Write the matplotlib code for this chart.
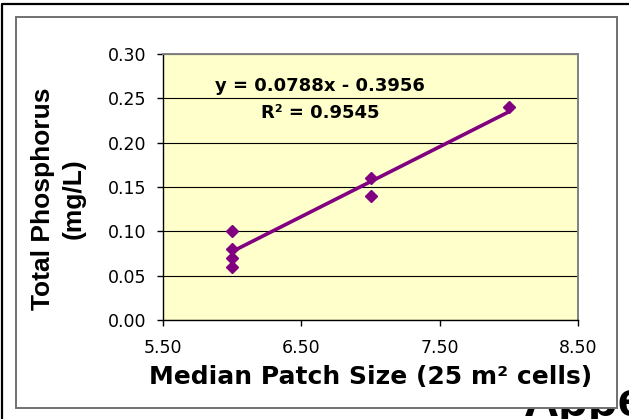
import matplotlib
matplotlib.use("Agg")
import matplotlib.pyplot as plt
from matplotlib.patches import Rectangle
import numpy as np

# ---- data ----
x_values = [6, 6, 6, 6, 7, 7, 8]
tp_values = [0.10, 0.08, 0.07, 0.06, 0.16, 0.14, 0.24]
trend_slope = 0.0788
trend_intercept = -0.3956
equation_text = "y = 0.0788x - 0.3956"
r2_text = "R² = 0.9545"
x_ticks = [5.5, 6.5, 7.5, 8.5]
x_tick_labels = ["5.50", "6.50", "7.50", "8.50"]
y_ticks = [0.00, 0.05, 0.10, 0.15, 0.20, 0.25, 0.30]
y_tick_labels = ["0.00", "0.05", "0.10", "0.15", "0.20", "0.25", "0.30"]
x_label = "Median Patch Size (25 m² cells)"
y_label = "Total Phosphorus\n(mg/L)"
bg_text = "Appe"

W, H = 629, 419
fig = plt.figure(figsize=(W / 100, H / 100), dpi=100)
fig.patch.set_facecolor("white")

def fx(px):
    return px / W

def fy(py):
    return 1 - py / H

PURPLE = "#800080"
YELLOW = "#FFFFCC"

# background layer in pixel coordinates (slide behind the chart)
bg = fig.add_axes([0, 0, 1, 1], zorder=-10)
bg.set_xlim(0, W)
bg.set_ylim(H, 0)
bg.axis("off")
bg.plot([1.5, 1.5, 640], [430, 4.5, 4.5], color="black", lw=1.6, zorder=1)
bg.text(524, 416, bg_text, fontsize=35, fontweight="bold",
        family=["Liberation Sans", "DejaVu Sans"], color="black",
        ha="left", va="baseline", zorder=2)
bg.add_patch(Rectangle((16, 17), 617 - 16, 408 - 17, facecolor="white",
                       edgecolor="#707070", lw=1.4, zorder=3))

ax = fig.add_axes([fx(163), fy(320), fx(578) - fx(163), fy(54) - fy(320)])
ax.set_facecolor(YELLOW)
ax.set_xlim(5.5, 8.5)
ax.set_ylim(0.0, 0.30)

ax.set_yticks(y_ticks)
ax.set_yticklabels(y_tick_labels)
ax.set_xticks(x_ticks)
ax.set_xticklabels(x_tick_labels)
ax.tick_params(axis="both", direction="out", length=4, width=1, color="black",
               labelsize=12.5, labelcolor="black")
ax.tick_params(axis="y", pad=8)
ax.tick_params(axis="x", pad=10)

ax.yaxis.grid(True, color="black", lw=0.8)
ax.set_axisbelow(True)

for side in ["left", "bottom"]:
    ax.spines[side].set_color("black")
    ax.spines[side].set_linewidth(1.0)
for side in ["top", "right"]:
    ax.spines[side].set_color("#808080")
    ax.spines[side].set_linewidth(1.4)

# trendline
xt = np.array([min(x_values), max(x_values)])
ax.plot(xt, trend_slope * xt + trend_intercept, color=PURPLE, lw=2.6,
        solid_capstyle="butt", zorder=3)

# points
ax.plot(x_values, tp_values, linestyle="none", marker="D", markersize=6.3,
        color=PURPLE, markeredgecolor=PURPLE, zorder=4)

ax.text(0.378, 0.88, equation_text, transform=ax.transAxes, ha="center",
        va="center", fontsize=13, fontweight="bold", color="black")
ax.text(0.378, 0.778, r2_text, transform=ax.transAxes, ha="center",
        va="center", fontsize=13, fontweight="bold", color="black")

ax.set_xlabel(x_label, fontsize=18, fontweight="bold")
ax.xaxis.label.set_va("center")
ax.xaxis.label.set_ha("center")
ax.xaxis.set_label_coords((371 - 163) / 415, (320 - 377) / 266)

ax.set_ylabel(y_label, fontsize=19, fontweight="bold",
              family=["Liberation Sans", "DejaVu Sans"], linespacing=1.35)
ax.yaxis.label.set_va("center")
ax.yaxis.set_label_coords((58 - 163) / 415, (320 - 199) / 266)

fig.savefig("out.png", dpi=100)
